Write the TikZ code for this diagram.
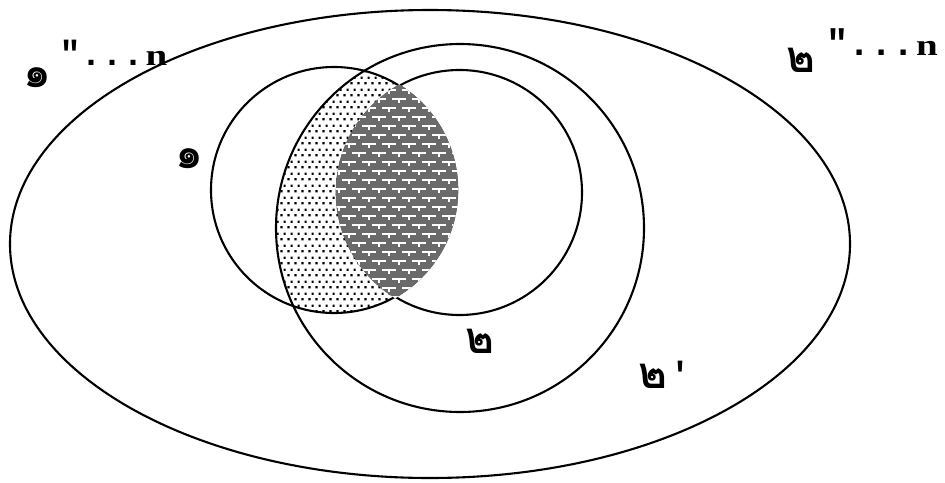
\documentclass[tikz,border=0pt]{standalone}
\usepackage{fontspec}
\newfontfamily\thai[Script=Thai]{Loma}
\newfontfamily\mono{Liberation Mono}
\newfontfamily\serifn{Liberation Serif}
\usetikzlibrary{patterns}
\pgfdeclarepatternformonly{vdots}{\pgfqpoint{0pt}{0pt}}{\pgfqpoint{7pt}{12pt}}{\pgfqpoint{7pt}{12pt}}{%
  \pgfpathrectangle{\pgfqpoint{0.5pt}{1.8pt}}{\pgfqpoint{2.4pt}{2.4pt}}%
  \pgfpathrectangle{\pgfqpoint{4pt}{7.8pt}}{\pgfqpoint{2.4pt}{2.4pt}}%
  \pgfusepath{fill}}
\pgfdeclarepatternformonly{wbricks}{\pgfqpoint{-1pt}{-1pt}}{\pgfqpoint{21pt}{19pt}}{\pgfqpoint{20pt}{18pt}}{%
  \pgfsetlinewidth{1.7pt}%
  \pgfpathmoveto{\pgfqpoint{2pt}{14pt}}\pgfpathlineto{\pgfqpoint{16pt}{14pt}}%
  \pgfpathmoveto{\pgfqpoint{9pt}{14pt}}\pgfpathlineto{\pgfqpoint{9pt}{9.5pt}}%
  \pgfpathmoveto{\pgfqpoint{12pt}{5pt}}\pgfpathlineto{\pgfqpoint{20pt}{5pt}}%
  \pgfpathmoveto{\pgfqpoint{0pt}{5pt}}\pgfpathlineto{\pgfqpoint{6pt}{5pt}}%
  \pgfpathmoveto{\pgfqpoint{19pt}{5pt}}\pgfpathlineto{\pgfqpoint{19pt}{0.5pt}}%
  \pgfusepath{stroke}}
\definecolor{lensgray}{HTML}{6A6A6A}
\tikzset{
  setline/.style={draw=black, line width=2.1pt},
  thailbl/.style={inner sep=0pt, font=\thai\bfseries\fontsize{44}{44}\selectfont},
  monolbl/.style={inner sep=0pt, anchor=base west, font=\mono\bfseries\fontsize{35}{35}\selectfont},
}
\newcommand{\bign}{{\serifn\bfseries\fontsize{30}{30}\selectfont\scalebox{1.3}[1]{n}}}
\begin{document}
\begin{tikzpicture}[x=1pt,y=-1pt]
\useasboundingbox (0,0) rectangle (945,482);
\fill[white] (0,0) rectangle (945,482);
\coordinate (cA) at (334,190);
\coordinate (cB) at (459.5,192.5);
\coordinate (cC) at (460,228);
\coordinate (cE) at (430,244);
% dotted region: A and C without B
\begin{scope}
  \clip (cA) circle [radius=123pt];
  \clip (cC) circle [radius=184pt];
  \fill[pattern=vdots, pattern color=black] (200,40) rectangle (600,420);
\end{scope}
% outlines
\draw[setline] (cE) ellipse [x radius=420pt, y radius=234pt];
\draw[setline] (cA) circle [radius=123pt];
\draw[setline] (cB) circle [radius=122.5pt];
\draw[setline] (cC) circle [radius=184pt];
% hatched lens: A and B
\begin{scope}
  \clip (cA) circle [radius=124.3pt];
  \clip (cB) circle [radius=123.8pt];
  \fill[lensgray] (200,40) rectangle (600,420);
  \fill[pattern=wbricks, pattern color=white] (200,40) rectangle (600,420);
\end{scope}
% labels
\node[thailbl] (l1d) at (37.5,78) {๑};
\node[monolbl] (l1r) at (59.5,65) {"...\hspace{2pt}\bign};
\node[thailbl] (l2d) at (801,60) {๒};
\node[monolbl, font=\mono\bfseries\fontsize{37}{37}\selectfont] (l2r) at (826,55) {"...\hspace{1pt}\bign};
\node[thailbl] (la) at (189.5,159) {๑};
\node[thailbl] (lb) at (480,341.5) {๒};
\node[thailbl] (lc) at (653,376) {๒};
\node[monolbl] (lcp) at (669.5,386) {'};
\end{tikzpicture}
\end{document}
